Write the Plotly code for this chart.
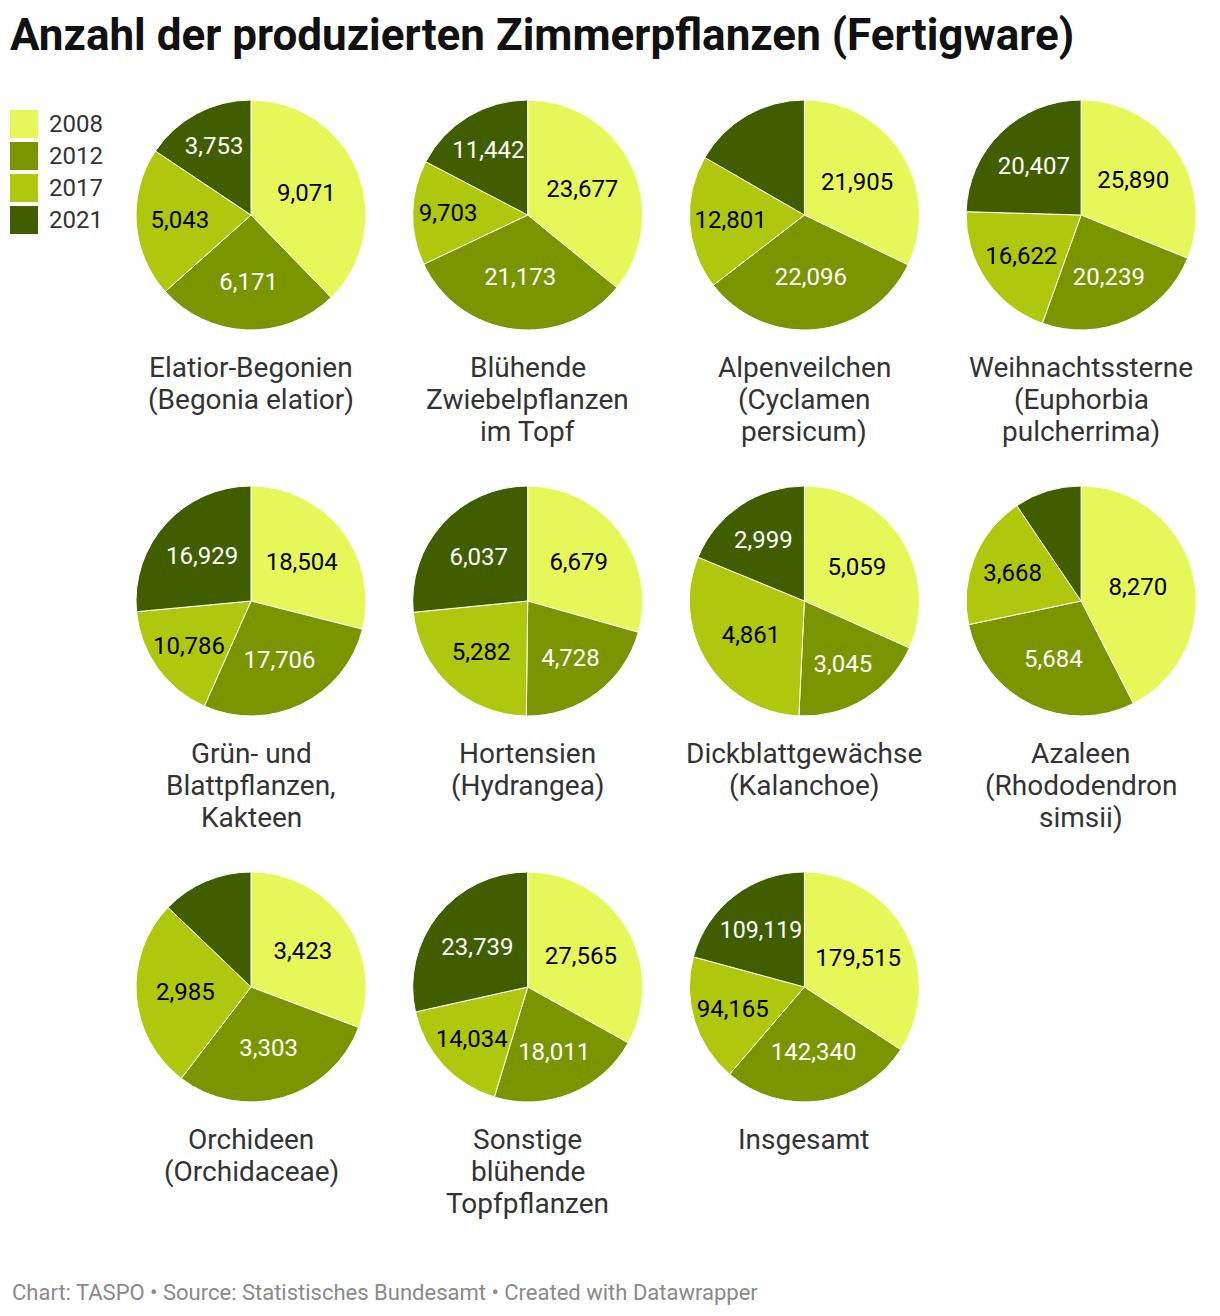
import plotly.graph_objects as go

W, H = 1220, 1316

years = ["2008", "2012", "2017", "2021"]
colors = ["#e6f759", "#7a9500", "#afc80e", "#405e00"]
text_colors = ["#000000", "#ffffff", "#000000", "#ffffff"]

categories = [
    "Elatior-Begonien<br>(Begonia elatior)",
    "Blühende<br>Zwiebelpflanzen<br>im Topf",
    "Alpenveilchen<br>(Cyclamen<br>persicum)",
    "Weihnachtssterne<br>(Euphorbia<br>pulcherrima)",
    "Grün- und<br>Blattpflanzen,<br>Kakteen",
    "Hortensien<br>(Hydrangea)",
    "Dickblattgewächse<br>(Kalanchoe)",
    "Azaleen<br>(Rhododendron<br>simsii)",
    "Orchideen<br>(Orchidaceae)",
    "Sonstige<br>blühende<br>Topfpflanzen",
    "Insgesamt",
]

v2008 = [9071, 23677, 21905, 25890, 18504, 6679, 5059, 8270, 3423, 27565, 179515]
v2012 = [6171, 21173, 22096, 20239, 17706, 4728, 3045, 5684, 3303, 18011, 142340]
v2017 = [5043, 9703, 12801, 16622, 10786, 5282, 4861, 3668, 2985, 14034, 94165]
# 2021 values for Alpenveilchen, Azaleen, Orchideen are unlabelled in the source
v2021 = [3753, 11442, 11360, 20407, 16929, 6037, 2999, 1838, 1430, 23739, 109119]
label_2021 = [True, True, False, True, True, True, True, False, False, True, True]

fig = go.Figure()

R = 115
ncols = 4
col_x0, col_dx = 251, 276.7
row_y0, row_dy = 215, 386

for i, name in enumerate(categories):
    r, c = divmod(i, ncols)
    cx = col_x0 + col_dx * c
    cy = row_y0 + row_dy * r
    vals = [v2008[i], v2012[i], v2017[i], v2021[i]]
    texts = [f"{v:,}" for v in vals]
    if not label_2021[i]:
        texts[3] = ""
    fig.add_trace(go.Pie(
        labels=years,
        values=vals,
        text=texts,
        textinfo="text",
        hoverinfo="label+value",
        sort=False,
        direction="clockwise",
        rotation=0,
        marker=dict(colors=colors, line=dict(color="#ffffff", width=1)),
        textposition="inside",
        insidetextorientation="horizontal",
        textfont=dict(family="Roboto", size=24, color=text_colors),
        showlegend=False,
        domain=dict(x=[(cx - R) / W, (cx + R) / W],
                    y=[1 - (cy + R) / H, 1 - (cy - R) / H]),
    ))
    for k, line in enumerate(name.split("<br>")):
        fig.add_annotation(
            x=cx / W, y=1 - (cy + R + 37 + 32 * k) / H, xref="paper", yref="paper",
            text=line, showarrow=False, xanchor="center", yanchor="middle",
            font=dict(family="Roboto", size=28, color="#333333"),
            align="center",
        )

# legend
for k, (yr, col) in enumerate(zip(years, colors)):
    top = 110 + 32 * k
    fig.add_shape(type="rect", xref="paper", yref="paper",
                  x0=10 / W, x1=38 / W, y0=1 - (top + 28) / H, y1=1 - top / H,
                  fillcolor=col, line=dict(width=0))
    fig.add_annotation(x=47 / W, y=1 - (top + 14) / H, xref="paper", yref="paper",
                       text=yr, showarrow=False, xanchor="left", yanchor="middle",
                       font=dict(family="Roboto", size=24, color="#333333"))

fig.add_annotation(x=8 / W, y=1 - 35 / H, xref="paper", yref="paper",
                   text="<b>Anzahl der produzierten Zimmerpflanzen (Fertigware)</b>",
                   showarrow=False, xanchor="left", yanchor="middle",
                   font=dict(family="Roboto", size=44, color="#111111"))

fig.add_annotation(x=10 / W, y=1 - 1292 / H, xref="paper", yref="paper",
                   text="Chart: TASPO • Source: Statistisches Bundesamt • Created with Datawrapper",
                   showarrow=False, xanchor="left", yanchor="middle",
                   font=dict(family="Roboto", size=22, color="#8a8a8a"))

fig.update_layout(
    width=W, height=H,
    margin=dict(l=0, r=0, t=0, b=0),
    paper_bgcolor="#ffffff",
    plot_bgcolor="#ffffff",
)

fig.write_html("out.html")
